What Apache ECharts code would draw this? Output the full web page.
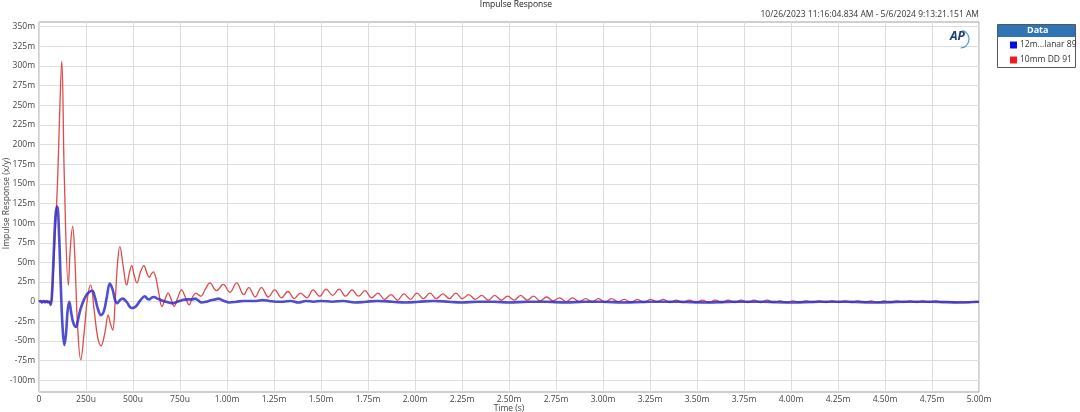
<!DOCTYPE html>
<html>
<head>
<meta charset="utf-8">
<script src="https://cdn.jsdelivr.net/npm/echarts@6/dist/echarts.min.js"></script>
<style>
html,body{margin:0;padding:0;background:#fff;}
#chart{width:1080px;height:412px;}
</style>
</head>
<body>
<div id="chart"></div>
<script>
// ---- data (time in microseconds, response in milli x/y) ----
const seriesNames = ['12m...lanar 89', '10mm DD 91'];
const xTicksInterval = 250;
const yTicksInterval = 25;

const redData = [
  [0,0],[10,1],[20,-1],[30,1],[40,-1],[50,1],[58,-2],[66,2],[72,15],[85,80],[99,155],[110,240],[121,306],
  [135,155],[156,21],[167,70],[179,96],[190,60],[205,-30],[222,-74],[240,-40],[258,5],[275,21],
  [293,-10],[312,-45],[330,-56],[350,-40],[368,-17],[380,-28],[392,-36],[405,0],[418,50],[430,70],
  [448,45],[466,21],[480,36],[493,46],[507,33],[521,24],[540,38],[558,46],[572,38],[586,31],[597,35],
  [608,38],[622,30],[638,10],[654,-6],[670,3],[687,11],[703,3],[719,-6],[738,5],[758,15],[778,6],
  [799,-4],[815,5],[834,11],[848,9],[861,7],[885,16],
  [909,24],[944,14],[980,22],[1015,12],[1051,24],[1089,9],[1116,18],[1150,6],[1183,18],[1220,6],
  [1254,15],[1290,5],[1324,13],[1358,4],[1390,11],[1425,5],[1458,15],[1493,7],[1527,16],[1562,8],
  [1596,16],[1631,7],[1665,15],[1700,7],[1734,14],[1769,5],[1803,11],[1838,3],[1872,9],[1907,2],
  [1941,10],[1976,3],[2010,11],[2045,4],[2079,11],[2114,4],[2148,10],[2183,4],[2217,11],[2252,4],
  [2286,9],[2321,3],[2355,8],[2390,2],[2424,8],[2459,2],[2493,7],[2528,2],[2562,8],[2597,2],
  [2631,7],[2666,1],[2700,6],[2735,1],[2769,5],[2804,0],[2838,5],[2873,0],[2907,4],[2942,0],
  [2976,4],[3011,-1],[3045,4],[3080,0],[3114,3],[3149,-1],[3183,3],[3218,-1],[3252,3],[3287,0],
  [3321,3],[3356,-1],[3390,2],[3425,-1],[3459,2],[3494,-1],[3528,2],[3563,-1],[3597,2],[3632,-1],
  [3666,2],[3701,-1],[3735,2],[3770,-1],[3804,2],[3839,-1],[3873,2],[3908,-1],[3942,1],[3977,-1],
  [4011,1],[4046,-1],[4080,1],[4115,-1],[4149,1],[4184,-1],[4218,1],[4253,-1],[4287,1],[4322,-1],
  [4356,1],[4391,-1],[4425,1],[4460,-1],[4494,1],[4529,-1],[4563,1],[4598,-1],[4632,1],[4667,-1],
  [4701,1],[4736,-1],[4770,1],[4805,-1],[4839,0],[4874,-1],[4908,0],[4943,-1],[4977,0],[5000,-1]
];

const blueData = [
  [0,0],[8,1],[16,-1],[24,1],[32,-1],[40,1],[48,-1],[56,0],[62,-4],[68,5],[78,60],[88,110],[97,121],
  [106,90],[116,20],[126,-35],[135,-55],[144,-40],[152,-12],[161,0],[170,-12],[180,-25],[190,-31],
  [197,-32],[205,-26],[220,-10],[240,3],[260,11],[283,14],[297,6],[313,-9],[330,-17],[345,-12],
  [360,5],[377,23],[392,15],[405,2],[416,-2],[430,2],[445,4],[465,0],[493,-8],[515,-6],[540,2],
  [563,7],[575,4],[586,3],[598,5],[611,6],[630,4],[661,1],[690,-1],[714,-2],[735,0],[760,2],[790,3],
  [815,3],[830,4],[845,2],[865,-1],[890,0],[915,2],[940,3],[953,4],[975,2],[1015,-1],[1050,0],
  [1086,1],[1120,1],[1155,1],[1190,2],[1225,1],[1260,0],[1300,0],[1340,1],[1380,-1],[1420,1],
  [1460,0],[1500,1],[1560,0],[1620,1],[1680,-1],[1740,0],[1800,1],[1880,0],[1950,-1],[2020,0],
  [2100,1],[2180,0],[2250,-1],[2330,0],[2420,0],[2500,-1],[2600,0],[2700,0],[2800,-1],[2900,0],
  [3000,0],[3100,-1],[3250,0],[3400,0],[3550,-1],[3700,0],[3850,0],[4000,-1],[4150,0],[4300,0],
  [4450,-1],[4600,0],[4750,0],[4900,-1],[5000,0]
];

const titleText = 'Impulse Response';
const dateText = '10/26/2023 11:16:04.834 AM - 5/6/2024 9:13:21.151 AM';
const xName = 'Time (s)';
const yName = 'Impulse Response (x/y)';

// ---- chart ----
const FONT = '"Open Sans", "Noto Sans", sans-serif';
const chart = echarts.init(document.getElementById('chart'), null, {renderer: 'canvas'});

function xFmt(v) {
  if (v === 0) return '0';
  if (v < 1000) return v + 'u';
  return (v / 1000).toFixed(2) + 'm';
}
function yFmt(v) {
  if (v === 0) return '0';
  return v + 'm';
}

const option = {
  backgroundColor: '#ffffff',
  animation: false,
  textStyle: {fontFamily: FONT},
  title: [
    {text: titleText, left: 516, top: 0, textAlign: 'center', padding: 0,
     textStyle: {fontSize: 8.5, fontWeight: 'normal', color: '#222', fontFamily: FONT}},
    {text: dateText, right: 101, top: 10, padding: 0,
     textStyle: {fontSize: 8.5, fontWeight: 'normal', color: '#333', fontFamily: FONT}}
  ],
  legend: {
    orient: 'vertical',
    left: 1010, top: 40.5, padding: 0,
    itemWidth: 7, itemHeight: 7, itemGap: 6,
    icon: 'rect',
    selectedMode: false,
    textStyle: {fontSize: 8.5, color: '#333', fontFamily: FONT, padding: [0,0,0,-2]},
    data: [
      {name: seriesNames[0], itemStyle: {color: '#0a0ae6'}},
      {name: seriesNames[1], itemStyle: {color: '#ee1c1c'}}
    ]
  },
  grid: [
    {left: 39, right: 101, top: 26.7, bottom: 31.7, containLabel: false, outerBoundsMode: 'none'},
    {left: 39, right: 101, top: 22, bottom: 20, containLabel: false, outerBoundsMode: 'none', show: true,
     borderColor: '#a0a0a0', borderWidth: 1, backgroundColor: 'transparent'}
  ],
  xAxis: [
    {type: 'value', gridIndex: 0, min: 0, max: 5000, interval: xTicksInterval,
     axisLine: {show: false}, axisTick: {show: false}, axisLabel: {show: false}, splitLine: {show: false}},
    {type: 'value', gridIndex: 1, min: 0, max: 5000, interval: xTicksInterval,
     axisLine: {show: false}, axisTick: {show: false},
     axisLabel: {formatter: xFmt, fontSize: 8.5, color: '#444', margin: 3, fontFamily: FONT,
                 showMinLabel: true, showMaxLabel: true},
     splitLine: {show: true, lineStyle: {color: '#dedede', width: 1}},
     name: xName, nameLocation: 'middle', nameGap: 16.5, nameMoveOverlap: false,
     nameTextStyle: {fontSize: 8.5, color: '#444', fontFamily: FONT, verticalAlign: 'middle'}},
  ],
  yAxis: [
    {type: 'value', gridIndex: 0, min: -100, max: 350, interval: yTicksInterval,
     axisLine: {show: false}, axisTick: {show: false},
     axisLabel: {formatter: yFmt, fontSize: 8.5, color: '#444', margin: 4, fontFamily: FONT},
     splitLine: {show: true, lineStyle: {color: '#dedede', width: 1}},
     name: yName, nameLocation: 'middle', nameGap: 32, nameRotate: 90, nameMoveOverlap: false,
     nameTextStyle: {fontSize: 8.5, color: '#444', fontFamily: FONT, verticalAlign: 'middle'}},
    {type: 'value', gridIndex: 1, min: 0, max: 1, show: false}
  ],
  series: [
    {name: seriesNames[1], type: 'line', xAxisIndex: 0, yAxisIndex: 0, data: redData,
     showSymbol: false, smooth: 0.4, z: 2,
     lineStyle: {color: '#e04a4a', width: 1.3}, itemStyle: {color: '#ee1c1c'}},
    {name: seriesNames[0], type: 'line', xAxisIndex: 0, yAxisIndex: 0, data: blueData,
     showSymbol: false, smooth: 0.4, z: 3,
     lineStyle: {color: '#3030c8', width: 2.6, opacity: 0.85}, itemStyle: {color: '#0a0ae6'}}
  ],
  graphic: [
    {type: 'rect', left: 997, top: 24, z: 0,
     shape: {width: 78, height: 43},
     style: {fill: '#ffffff', stroke: '#555555', lineWidth: 1}},
    {type: 'rect', left: 998, top: 25, z: 1,
     shape: {width: 77, height: 12},
     style: {fill: '#2f74b5'}},
    {type: 'text', left: 1027, top: 26, z: 2,
     style: {text: 'Data', fill: '#ffffff', font: 'bold 9px ' + FONT}},
    {type: 'text', left: 950, top: 31, z: 5,
     style: {text: 'AP', fill: '#1d3f78', font: 'italic bold 12px ' + FONT}},
    {type: 'arc', z: 5,
     shape: {cx: 960, cy: 39, r: 9, startAngle: -1.3, endAngle: 1.5},
     style: {stroke: '#4a9ad0', lineWidth: 1.2, fill: null}}
  ]
};
chart.setOption(option);
</script>
</body>
</html>
